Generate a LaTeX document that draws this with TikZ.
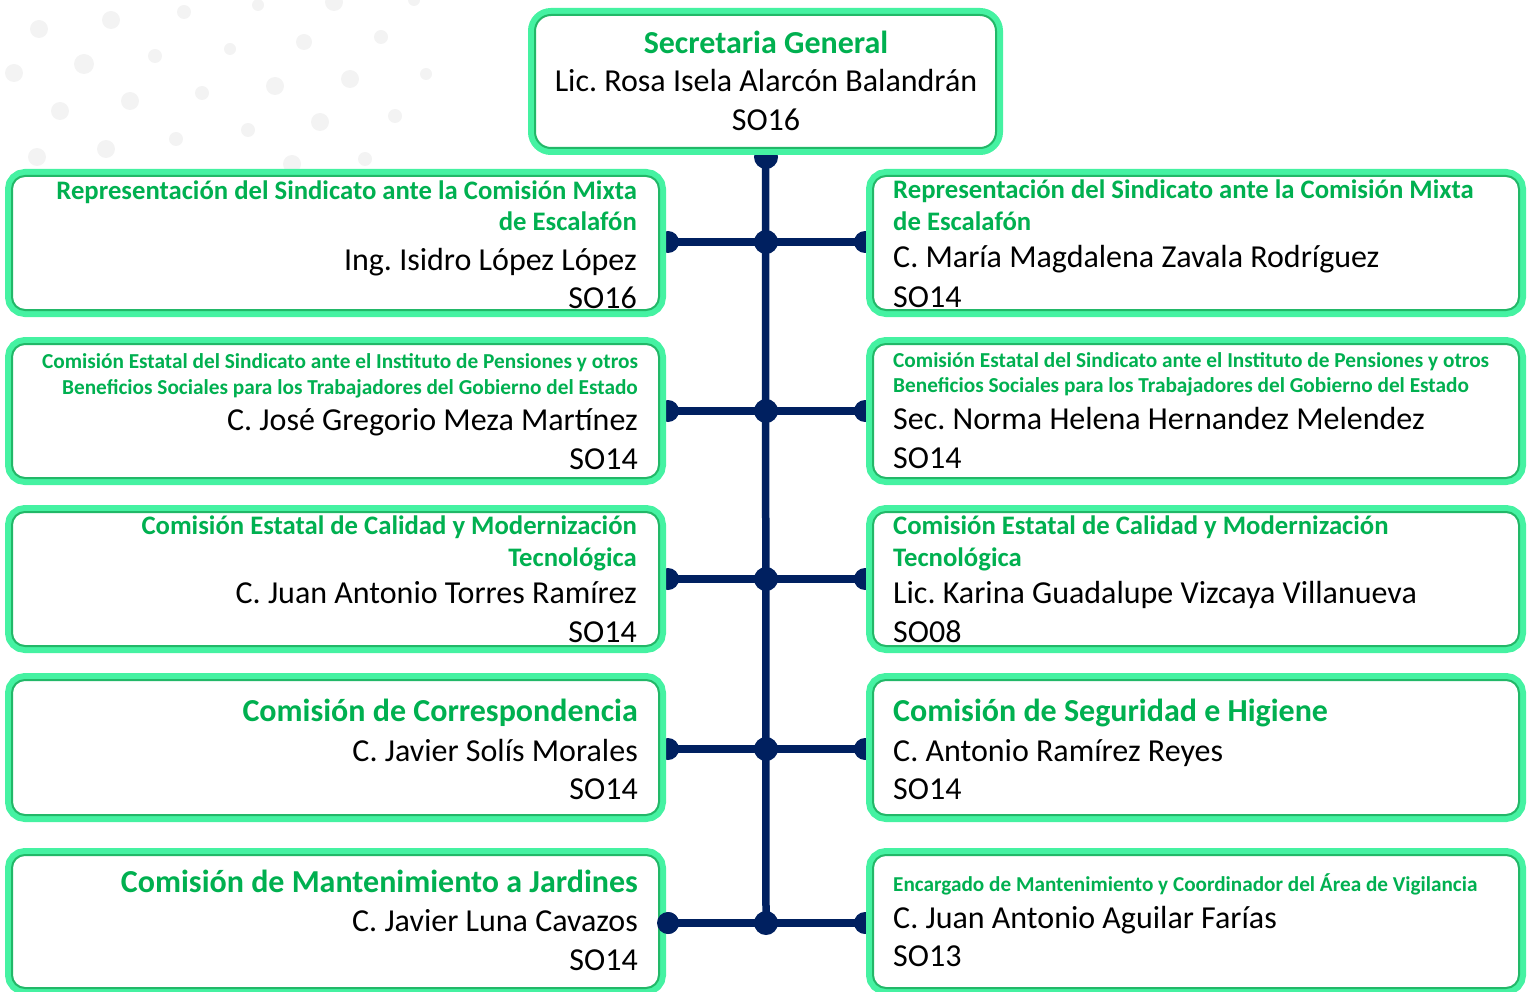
\documentclass[tikz,border=0pt]{standalone}
\usepackage{fontspec}
\setmainfont{Carlito}
\frenchspacing
\usetikzlibrary{backgrounds}
\definecolor{lightg}{HTML}{45F2A2}
\definecolor{darkg}{HTML}{22B868}
\definecolor{tgreen}{HTML}{00B050}
\definecolor{navy}{HTML}{002060}
\definecolor{dotgray}{HTML}{F3F3F3}
\tikzset{
  box/.style={rectangle, rounded corners=13pt, fill=white, draw=darkg, line width=2pt,
    preaction={draw=lightg, line width=14pt}, inner sep=0pt, outer sep=0pt},
  lbox/.style={box, minimum width=647pt},
  rbox/.style={box, minimum width=646pt},
  conn/.style={draw=navy, line width=7.5pt},
  jdot/.style={fill=navy},
  nm/.style={inner sep=0pt, font=\frenchspacing\fontsize{32}{36}\selectfont, text=black},
  tbig/.style={inner sep=0pt, font=\bfseries\fontsize{32}{36}\selectfont, text=tgreen},
  tmid/.style={inner sep=0pt, font=\bfseries\fontsize{26.7}{30}\selectfont, text=tgreen},
  tsml/.style={inner sep=0pt, font=\bfseries\fontsize{21.3}{24}\selectfont, text=tgreen},
  tsmr/.style={inner sep=0pt, font=\bfseries\fontsize{21.2}{24}\selectfont, text=tgreen},
  le/.style={anchor=base east},
  ri/.style={anchor=base west},
  ce/.style={anchor=base},
  bgdot/.style={fill=dotgray}
}
\begin{document}
\begin{tikzpicture}[x=1pt,y=-1pt]
\useasboundingbox (0,0) rectangle (1533,992);
% boxes
\node[box, minimum width=461pt, minimum height=133pt, rounded corners=16pt] (T) at (765.5,81.5) {};
\node[lbox, minimum height=134pt] (L1) at (335.5,243) {};
\node[rbox, minimum height=134pt] (R1) at (1196,243) {};
\node[lbox, minimum height=134pt] (L2) at (335.5,411) {};
\node[rbox, minimum height=134pt] (R2) at (1196,411) {};
\node[lbox, minimum height=134pt] (L3) at (335.5,579) {};
\node[rbox, minimum height=134pt] (R3) at (1196,579) {};
\node[lbox, minimum height=135pt] (L4) at (335.5,747.5) {};
\node[rbox, minimum height=135pt] (R4) at (1196,747.5) {};
\node[lbox, minimum height=133pt] (L5) at (335.5,921.5) {};
\node[rbox, minimum height=133pt] (R5) at (1196,921.5) {};
% hubs and ends
\coordinate (top) at (766,157);
\coordinate (h1) at (766,242);
\coordinate (h2) at (766,411);
\coordinate (h3) at (766,579);
\coordinate (h4) at (766,749);
\coordinate (h5) at (766,923);
\foreach \i in {1,...,5}{
  \coordinate (a\i) at ([xshift=9pt]L\i.east |- h\i);
  \coordinate (b\i) at ([xshift=-8pt]R\i.west |- h\i);
}
\begin{pgfonlayer}{background}
  \fill[bgdot] (39,29) circle (9pt) (111,20) circle (9pt) (184,12) circle (7pt)
    (258,5) circle (6pt) (334,2) circle (9pt) (414,0) circle (6pt)
    (84,64) circle (10pt) (14,73) circle (9pt) (155,56) circle (7pt)
    (230,49) circle (6pt) (304,42) circle (8pt) (381,37) circle (7pt)
    (350,79) circle (9pt) (275,86) circle (9pt) (202,93) circle (7pt)
    (130,101) circle (9pt) (60,111) circle (9pt) (426,74) circle (6pt)
    (395,116) circle (7pt) (320,122) circle (9pt) (248,130) circle (7pt)
    (176,139) circle (7pt) (106,149) circle (9pt) (37,157) circle (9pt)
    (292,164) circle (9pt) (365,159) circle (7pt);
  \draw[conn] (T.south) -- (h5);
  \fill[jdot] (top) circle (12pt);
  \foreach \i in {1,...,5}{
    \draw[conn] (a\i) -- (b\i);
    \fill[jdot] (a\i) circle (11pt);
    \fill[jdot] (b\i) circle (11pt);
    \fill[jdot] (h\i) circle (12pt);
  }
\end{pgfonlayer}
\fill[jdot] (a5) circle (11pt);
% top text
\node[tbig, ce] (t0a) at (766,54) {Secretaria General};
\node[nm, ce] (t0b) at (766,92) {Lic. Rosa Isela Alarcón Balandrán};
\node[nm, ce] (t0c) at (766,131) {SO16};
% row 1
\node[tmid, le] (l1a) at (637,200) {Representación del Sindicato ante la Comisión Mixta};
\node[tmid, le] (l1b) at (637,231) {de Escalafón};
\node[nm, le] (l1c) at (637,270) {Ing. Isidro López López};
\node[nm, le] (l1d) at (637,308) {SO16};
\node[tmid, ri] (r1a) at (893,199) {Representación del Sindicato ante la Comisión Mixta};
\node[tmid, ri] (r1b) at (893,231) {de Escalafón};
\node[nm, ri] (r1c) at (893,268) {C. María Magdalena Zavala Rodríguez};
\node[nm, ri] (r1d) at (893,307) {SO14};
% row 2
\node[tsml, le] (l2a) at (638,368) {Comisión Estatal del Sindicato ante el Instituto de Pensiones y otros};
\node[tsml, le] (l2b) at (638,394) {Beneficios Sociales para los Trabajadores del Gobierno del Estado};
\node[nm, le] (l2c) at (638,430) {C. José Gregorio Meza Martínez};
\node[nm, le] (l2d) at (638,469) {SO14};
\node[tsml, ri] (r2a) at (893,367) {Comisión Estatal del Sindicato ante el Instituto de Pensiones y otros};
\node[tsml, ri] (r2b) at (893,392) {Beneficios Sociales para los Trabajadores del Gobierno del Estado};
\node[nm, ri] (r2c) at (893,429) {Sec. Norma Helena Hernandez Melendez};
\node[nm, ri] (r2d) at (893,468) {SO14};
% row 3
\node[tmid, le] (l3a) at (637,534) {Comisión Estatal de Calidad y Modernización};
\node[tmid, le] (l3b) at (637,566) {Tecnológica};
\node[nm, le] (l3c) at (637,603) {C. Juan Antonio Torres Ramírez};
\node[nm, le] (l3d) at (637,642) {SO14};
\node[tmid, ri] (r3a) at (893,534) {Comisión Estatal de Calidad y Modernización};
\node[tmid, ri] (r3b) at (893,566) {Tecnológica};
\node[nm, ri] (r3c) at (893,603) {Lic. Karina Guadalupe Vizcaya Villanueva};
\node[nm, ri] (r3d) at (893,642) {SO08};
% row 4
\node[tbig, le] (l4a) at (638,721) {Comisión de Correspondencia};
\node[nm, le] (l4b) at (638,761) {C. Javier Solís Morales};
\node[nm, le] (l4c) at (638,799) {SO14};
\node[tbig, ri] (r4a) at (893,721) {Comisión de Seguridad e Higiene};
\node[nm, ri] (r4b) at (893,761) {C. Antonio Ramírez Reyes};
\node[nm, ri] (r4c) at (893,799) {SO14};
% row 5
\node[tbig, le] (l5a) at (638,892) {Comisión de Mantenimiento a Jardines};
\node[nm, le] (l5b) at (638,931) {C. Javier Luna Cavazos};
\node[nm, le] (l5c) at (638,970) {SO14};
\node[tsmr, ri] (r5a) at (893,891) {Encargado de Mantenimiento y Coordinador del Área de Vigilancia};
\node[nm, ri] (r5b) at (893,928) {C. Juan Antonio Aguilar Farías};
\node[nm, ri] (r5c) at (893,966) {SO13};
\end{tikzpicture}
\end{document}
